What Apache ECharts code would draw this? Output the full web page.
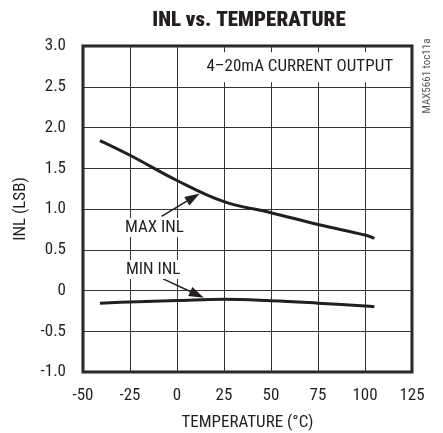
<!DOCTYPE html>
<html><head><meta charset="utf-8">
<script src="https://cdn.jsdelivr.net/npm/echarts@6/dist/echarts.min.js"></script>
<style>html,body{margin:0;padding:0;background:#fff}#c{width:443px;height:433px}</style>
</head><body><div id="c"></div>
<script>
var temps = [-41, -25, 0, 25, 50, 75, 100, 105];
var maxInl = [1.84, 1.66, 1.35, 1.09, 0.955, 0.81, 0.68, 0.64];
var minInl = [-0.155, -0.14, -0.123, -0.107, -0.125, -0.155, -0.19, -0.20];
var xTicks = [-50, -25, 0, 25, 50, 75, 100, 125];
var yTicks = [-1.0, -0.5, 0, 0.5, 1.0, 1.5, 2.0, 2.5, 3.0];

var FONT = "'Roboto Condensed', 'DejaVu Sans Condensed', sans-serif";
var INK = '#231f20';
var chart = echarts.init(document.getElementById('c'));
function pairs(xs, ys){ return xs.map(function(x,i){ return [x, ys[i]]; }); }

var option = {
  animation: false,
  title: { text: 'INL vs. TEMPERATURE', left: 244, top: 5, textAlign: 'center',
    textStyle: { fontFamily: FONT, fontWeight: 900, fontSize: 21, color: INK } },
  grid: { left: 83, top: 46, width: 329, height: 326, outerBoundsMode: 'none', containLabel: false,
    show: true, borderColor: INK, borderWidth: 3, backgroundColor: 'transparent' },
  xAxis: { type: 'value', min: xTicks[0], max: xTicks[xTicks.length-1], interval: 25,
    name: 'TEMPERATURE (°C)', nameLocation: 'middle', nameGap: 42,
    nameTextStyle: { fontFamily: FONT, fontSize: 17, color: INK },
    axisLine: { show: false }, axisTick: { show: false },
    axisLabel: { fontFamily: FONT, fontSize: 17, color: INK, margin: 15 },
    splitLine: { lineStyle: { color: '#333', width: 1 } } },
  yAxis: { type: 'value', min: yTicks[0], max: yTicks[yTicks.length-1], interval: 0.5,
    name: 'INL (LSB)', nameLocation: 'middle', nameGap: 54,
    nameTextStyle: { fontFamily: FONT, fontSize: 17, color: INK },
    axisLine: { show: false }, axisTick: { show: false },
    axisLabel: { fontFamily: FONT, fontSize: 17, color: INK, margin: 17,
      formatter: function(v){ return v === 0 ? '0' : v.toFixed(1); } },
    splitLine: { lineStyle: { color: '#333', width: 1 } } },
  series: [
    { type: 'line', data: pairs(temps, maxInl), smooth: 0.4, symbol: 'none', z: 3,
      lineStyle: { color: INK, width: 3 } },
    { type: 'line', data: pairs(temps, minInl), smooth: 0.4, symbol: 'none', z: 3,
      lineStyle: { color: INK, width: 3 } }
  ]
};
chart.setOption(option);

function px(p){ return chart.convertToPixel({ gridIndex: 0 }, p); }
function arrow(from, to){
  var a = px(from), b = px(to);
  var dx = b[0]-a[0], dy = b[1]-a[1], L = Math.sqrt(dx*dx+dy*dy);
  var ux = dx/L, uy = dy/L, nx = -uy, ny = ux;
  var hl = 15, hw = 5;
  var base = [b[0]-ux*hl, b[1]-uy*hl];
  return [
    { type: 'line', z: 90, shape: { x1: a[0], y1: a[1], x2: base[0], y2: base[1] },
      style: { stroke: INK, lineWidth: 1.5 } },
    { type: 'polygon', z: 90, shape: { points: [b, [base[0]+nx*hw, base[1]+ny*hw], [base[0]-nx*hw, base[1]-ny*hw]] },
      style: { fill: INK } }
  ];
}
var pMax = px([-28.2, 0.773]);
var pMin = px([-27.7, 0.258]);
var pBox = px([116.5, 2.74]);
var g = [
  { type: 'text', x: pBox[0], y: pBox[1], z: 100,
    style: { text: '4–20mA CURRENT OUTPUT', fontFamily: FONT, fontSize: 17, fill: INK,
      align: 'right', verticalAlign: 'middle', backgroundColor: '#fff', padding: [7, 3, 6, 3] } },
  { type: 'text', x: pMax[0], y: pMax[1], z: 100,
    style: { text: 'MAX INL', fontFamily: FONT, fontSize: 17, fill: INK, align: 'left', verticalAlign: 'middle',
      backgroundColor: '#fff', padding: [1, 1, 1, 1] } },
  { type: 'text', x: pMin[0], y: pMin[1], z: 100,
    style: { text: 'MIN INL', fontFamily: FONT, fontSize: 17, fill: INK, align: 'left', verticalAlign: 'middle',
      backgroundColor: '#fff', padding: [1, 1, 1, 1] } },
  { type: 'text', x: 427, y: 76, rotation: Math.PI / 2, z: 100,
    style: { text: 'MAX5661 toc11a', fontFamily: FONT, fontSize: 11, fill: '#555', align: 'center', verticalAlign: 'middle' } }
].concat(arrow([-8.2, 0.91], [12.1, 1.19])).concat(arrow([-7.4, 0.143], [14.3, -0.09]));
chart.setOption({ graphic: g });
</script></body></html>
